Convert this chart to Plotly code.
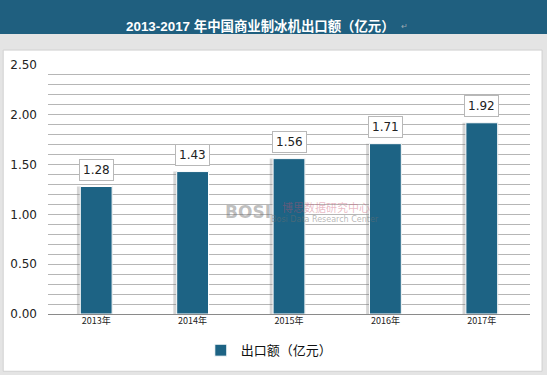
import plotly.graph_objects as go

years = ["2013年", "2014年", "2015年", "2016年", "2017年"]
values = [1.28, 1.43, 1.56, 1.71, 1.92]
value_labels = ["1.28", "1.43", "1.56", "1.71", "1.92"]
series_name = "出口额（亿元）"
title_text = "2013-2017 年中国商业制冰机出口额（亿元）"

bar_color = "#1d6384"

fig = go.Figure()
# soft shadow behind bars
fig.add_trace(go.Bar(x=years, y=values, width=0.37, offset=-0.2,
                     marker=dict(color="rgba(120,120,120,0.3)", line=dict(width=0)),
                     showlegend=False, hoverinfo="skip"))
fig.add_trace(go.Bar(x=years, y=values, name=series_name, width=0.33, offset=-0.165,
                     marker=dict(color=bar_color, line=dict(color="#ffffff", width=1))))

for yr, v, lab in zip(years, values, value_labels):
    fig.add_annotation(x=yr, y=v, text=lab, showarrow=False, yshift=17,
                       font=dict(family="DejaVu Sans", size=12, color="#222222"),
                       bgcolor="#ffffff", bordercolor="#b8b8b8", borderwidth=1, borderpad=3)

# title banner
fig.add_shape(type="rect", xref="paper", yref="paper", x0=-0.2, x1=1.2,
              y0=1.124, y1=1.4, fillcolor="#1f5f7f", line=dict(width=0), layer="below")
fig.add_annotation(xref="paper", yref="paper", x=0.44, y=1.196, showarrow=False,
                   text="<b>" + title_text + "</b>",
                   font=dict(family="Liberation Sans, Noto Sans CJK SC", size=13.4, color="#ffffff"))
fig.add_annotation(xref="paper", yref="paper", x=0.75, y=1.19, showarrow=False,
                   text="↵", font=dict(size=8, color="#9aa8b0"))
# white panel
fig.add_shape(type="rect", xref="paper", yref="paper", x0=-0.093, x1=1.025,
              y0=-0.23, y1=1.06, fillcolor="#ffffff", line=dict(color="#d0d0d0", width=1),
              layer="below")
# watermark
fig.add_annotation(xref="paper", yref="paper", x=0.415, y=0.41, showarrow=False,
                   text="<b>BOSI</b>", font=dict(family="DejaVu Sans", size=17, color="rgba(110,110,110,0.45)"))
fig.add_annotation(xref="paper", yref="paper", x=0.577, y=0.43, showarrow=False,
                   text="博思数据研究中心", font=dict(family="Noto Sans CJK SC", size=11, color="rgba(200,80,110,0.4)"))
fig.add_annotation(xref="paper", yref="paper", x=0.575, y=0.38, showarrow=False,
                   text="Bosi Data Research Center", font=dict(family="DejaVu Sans", size=8, color="rgba(110,110,110,0.5)"))

fig.update_layout(
    width=547, height=375,
    margin=dict(l=48, r=17, t=65, b=61, autoexpand=False),
    paper_bgcolor="#e4e4e4",
    plot_bgcolor="#edf2f7",
    barmode="overlay",
    showlegend=True,
    legend=dict(orientation="h", x=0.317, y=0.066, xref="paper", yref="container",
                xanchor="left", yanchor="middle",
                font=dict(family="Noto Sans CJK SC", size=13, color="#111111"),
                bgcolor="rgba(0,0,0,0)", itemwidth=30),
    xaxis=dict(showgrid=False, tickfont=dict(family="Noto Sans CJK SC", size=9, color="#222222"),
               showline=False, ticks=""),
    yaxis=dict(range=[0, 2.5], dtick=0.5, tickformat=".2f", gridcolor="#b6b6b6", gridwidth=1,
               minor=dict(dtick=0.1, showgrid=True, gridcolor="#b6b6b6"),
               tickfont=dict(family="DejaVu Sans", size=12, color="#222222"),
               showline=False, zeroline=True, zerolinecolor="#8a8a8a", zerolinewidth=1,
               ticklabelstandoff=10),
    font=dict(family="Noto Sans CJK SC"),
)

fig.write_html("out.html", config={"displayModeBar": False},
               post_script="document.body.style.margin='0';")
